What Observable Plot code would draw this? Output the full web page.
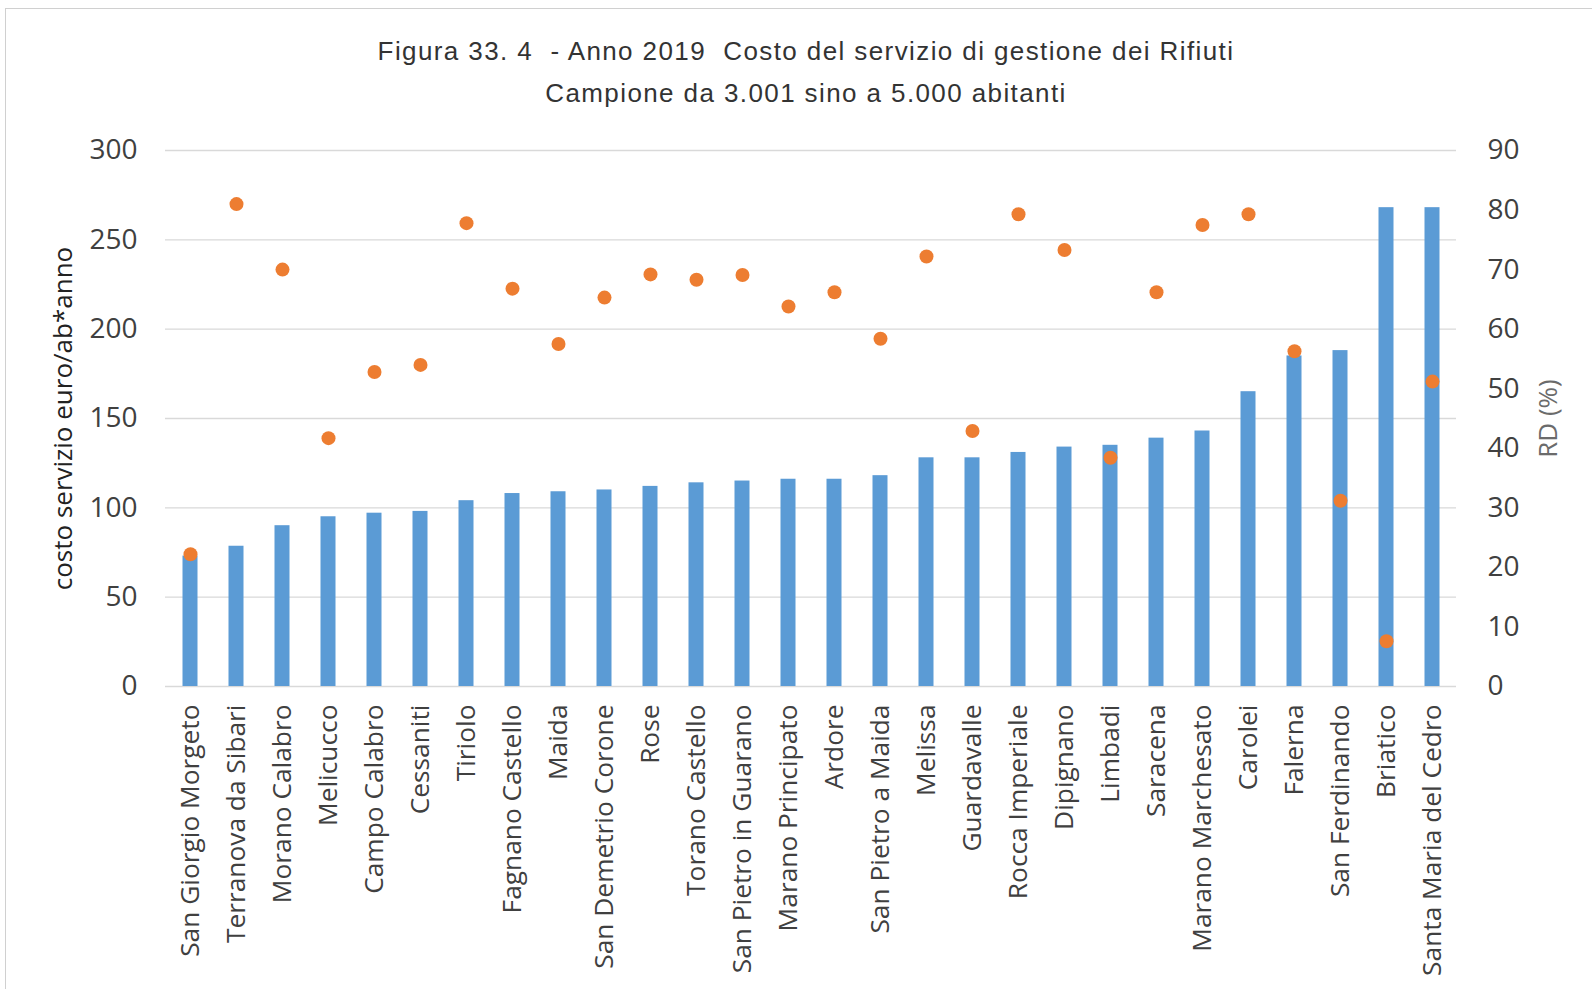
<!DOCTYPE html>
<html>
<head>
<meta charset="utf-8">
<script src="https://cdn.jsdelivr.net/npm/d3@7"></script>
<script src="https://cdn.jsdelivr.net/npm/@observablehq/plot@0.6"></script>
<style>
  html, body { margin: 0; padding: 0; background: #fff; overflow: hidden; }
  #frame { position: absolute; left: 5px; top: 8px; width: 1700px; height: 1100px; border: 1px solid #d0d0d0; box-sizing: border-box; }
  #title { position: absolute; left: 0; top: 0; width: 1612px; text-align: center; font-family: "Liberation Sans", Arial, sans-serif; font-size: 26px; letter-spacing: 1.4px; color: #333; white-space: pre; }
  #title div { position: absolute; left: 0; width: 100%; line-height: 30px; }
  #chart { position: absolute; left: 0; top: 115px; }
</style>
</head>
<body>
<div id="frame"></div>
<div id="title">
  <div style="top:36px">Figura 33. 4  - Anno 2019  Costo del servizio di gestione dei Rifiuti</div>
  <div style="top:78px">Campione da 3.001 sino a 5.000 abitanti</div>
</div>
<div id="chart"></div>
<script>
const comuni = [
  "San Giorgio Morgeto", "Terranova da Sibari", "Morano Calabro", "Melicucco",
  "Campo Calabro", "Cessaniti", "Tiriolo", "Fagnano Castello", "Maida",
  "San Demetrio Corone", "Rose", "Torano Castello", "San Pietro in Guarano",
  "Marano Principato", "Ardore", "San Pietro a Maida", "Melissa", "Guardavalle",
  "Rocca Imperiale", "Dipignano", "Limbadi", "Saracena", "Marano Marchesato",
  "Carolei", "Falerna", "San Ferdinando", "Briatico", "Santa Maria del Cedro"
];
const costo = [73, 78.5, 90, 95, 97, 98, 104, 108, 109, 110, 112, 114, 115, 116, 116, 118, 128, 128, 131, 134, 135, 139, 143, 165, 185, 188, 268, 268];
const rd = [22.2, 81, 70, 41.7, 52.8, 54, 77.8, 66.8, 57.5, 65.3, 69.2, 68.3, 69.1, 63.8, 66.2, 58.4, 72.2, 42.9, 79.3, 73.3, 38.4, 66.2, 77.5, 79.3, 56.3, 31.2, 7.6, 51.2];
const leftTicks = [0, 50, 100, 150, 200, 250, 300];
const rightTicks = [0, 10, 20, 30, 40, 50, 60, 70, 80, 90];
const leftMax = 300, rightMax = 90;

const data = comuni.map((c, i) => ({comune: c, costo: costo[i], rd: rd[i]}));
const toLeft = v => v * leftMax / rightMax;

const font = "'Open Sans', 'Noto Sans', sans-serif";
const chart = Plot.plot({
  width: 1592,
  height: 871,
  marginLeft: 165,
  marginRight: 136,
  marginTop: 35,
  marginBottom: 300,
  style: {fontFamily: font, background: "transparent", overflow: "visible"},
  x: {domain: comuni, padding: 0, label: null},
  y: {domain: [0, leftMax], label: null},
  marks: [
    Plot.gridY(leftTicks, {stroke: "#d9d9d9", strokeOpacity: 1, strokeWidth: 1.3}),
    Plot.barY(data, {x: "comune", y: "costo", fill: "#5B9BD5", insetLeft: 15.5, insetRight: 15.5}),
    Plot.dot(data, {x: "comune", y: d => toLeft(d.rd), r: 7, fill: "#ED7D31", stroke: null}),
    Plot.axisY(leftTicks, {anchor: "left", tickSize: 0, tickPadding: 28, fontSize: 28, fill: "#404040", label: null}),
    Plot.axisY(rightTicks.map(toLeft), {anchor: "right", tickSize: 0, tickPadding: 31, fontSize: 28, fill: "#404040", label: null, tickFormat: d => String(Math.round(d * rightMax / leftMax))}),
    Plot.axisX({anchor: "bottom", tickSize: 0, tickPadding: 18, tickRotate: -90, fontSize: 26.3, fill: "#404040", label: null}),
    Plot.text(["costo servizio euro/ab*anno"], {frameAnchor: "left", dx: -102, rotate: -90, fontSize: 26, fill: "#222", textAnchor: "middle", lineAnchor: "middle"}),
    Plot.text(["RD (%)"], {frameAnchor: "right", dx: 92, rotate: -90, fontSize: 26, fill: "#6b6b6b", textAnchor: "middle", lineAnchor: "middle"})
  ]
});
document.getElementById("chart").appendChild(chart);
</script>
</body>
</html>
